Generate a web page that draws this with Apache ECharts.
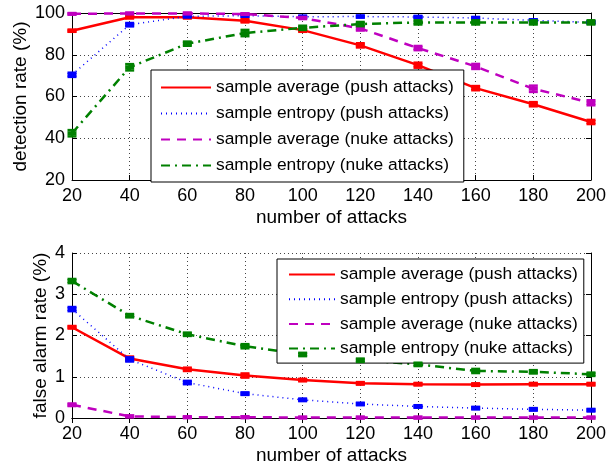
<!DOCTYPE html>
<html>
<head>
<meta charset="utf-8">
<script src="https://cdn.jsdelivr.net/npm/echarts@6/dist/echarts.min.js"></script>
<style>
  html, body { margin: 0; padding: 0; background: #fff; }
  #chart { width: 609px; height: 466px; }
</style>
</head>
<body>
<div id="chart"></div>
<script>
// number of attacks
var attacks = [20, 40, 60, 80, 100, 120, 140, 160, 180, 200];
var seriesNames = [
  "sample average (push attacks)",
  "sample entropy (push attacks)",
  "sample average (nuke attacks)",
  "sample entropy (nuke attacks)"
];

// detection rate (%)
var detAvgPush = [91.5, 98, 98, 96.3, 91.8, 84.5, 75, 64, 56.3, 47.8];
var detEntPush = [70.4, 94.4, 98.4, 98.7, 98.2, 98.3, 98.1, 97.6, 96.5, 95.5];
var detAvgNuke = [99.6, 99.8, 99.8, 99.5, 97.6, 92.6, 83.2, 74.4, 63.7, 57];
var detEntNuke = [42.4, 74, 85.3, 90.4, 92.9, 94.7, 95.5, 95.5, 95.5, 95.5];
var detAvgPushErr = [0.5, 0.6, 0.6, 0.8, 0.8, 1, 1.2, 1, 1, 1];
var detEntPushErr = [1, 0.8, 0.5, 0.5, 0.5, 0.5, 0.5, 0.5, 0.5, 0.5];
var detAvgNukeErr = [0.3, 0.3, 0.3, 0.3, 0.5, 1, 1, 1.2, 1.5, 1.2];
var detEntNukeErr = [1.5, 1.5, 1, 1.5, 1, 1, 1, 1, 1, 1];

// false alarm rate (%)
var faAvgPush = [2.2, 1.44, 1.18, 1.03, 0.92, 0.84, 0.82, 0.81, 0.82, 0.82];
var faEntPush = [2.64, 1.42, 0.86, 0.59, 0.44, 0.34, 0.28, 0.24, 0.21, 0.19];
var faAvgNuke = [0.32, 0.04, 0.02, 0.02, 0.01, 0.01, 0.01, 0.01, 0.01, 0.01];
var faEntNuke = [3.32, 2.48, 2.03, 1.74, 1.54, 1.4, 1.3, 1.14, 1.12, 1.06];
var faAvgPushErr = [0.03, 0.05, 0.04, 0.05, 0.03, 0.03, 0.03, 0.03, 0.03, 0.03];
var faEntPushErr = [0.05, 0.05, 0.04, 0.03, 0.03, 0.03, 0.03, 0.03, 0.03, 0.03];
var faAvgNukeErr = [0.03, 0.02, 0.02, 0.02, 0.02, 0.02, 0.02, 0.02, 0.02, 0.02];
var faEntNukeErr = [0.05, 0.04, 0.04, 0.05, 0.04, 0.04, 0.04, 0.05, 0.04, 0.04];

var colors = ["#ff0000", "#0000ff", "#bf00bf", "#008000"];
var lineTypes = ["solid", [1, 4], [9, 7], [9, 5, 2, 5]];
var lineWidths = [2.5, 1.5, 2.5, 2.5];
var font = "Liberation Sans, Arial, Helvetica, sans-serif";

var myChart = echarts.init(document.getElementById("chart"));

function zip(xs, ys, es) {
  var out = [];
  for (var i = 0; i < xs.length; i++) out.push([xs[i], ys[i], es[i]]);
  return out;
}

// error bar with caps, drawn at each data point
function errorBar(color) {
  return function (params, api) {
    var x = api.value(0), y = api.value(1), e = api.value(2);
    var lo = api.coord([x, y - e]);
    var hi = api.coord([x, y + e]);
    var c = api.coord([x, y]);
    var half = 4.5;
    var style = { stroke: color, lineWidth: 2.5 };
    return {
      type: "group",
      children: [
        { type: "line", shape: { x1: c[0], y1: lo[1], x2: c[0], y2: hi[1] }, style: style },
        { type: "line", shape: { x1: c[0] - half, y1: lo[1], x2: c[0] + half, y2: lo[1] }, style: style },
        { type: "line", shape: { x1: c[0] - half, y1: hi[1], x2: c[0] + half, y2: hi[1] }, style: style },
        { type: "rect", shape: { x: c[0] - half, y: c[1] - 2, width: 2 * half, height: 4 }, style: { fill: color } }
      ]
    };
  };
}

var axisLabelStyle = { color: "#000", fontSize: 18, fontFamily: font, margin: 7 };
var nameStyle = { color: "#000", fontSize: 19, fontFamily: font };

function xAxes(gridIndex) {
  return [
    {
      type: "value", gridIndex: gridIndex, min: 20, max: 200, interval: 20,
      name: "number of attacks", nameLocation: "middle", nameGap: 28, nameTextStyle: nameStyle,
      axisLine: { show: true, lineStyle: { color: "#000", width: 1 } },
      axisTick: { show: true, inside: true, length: 5, lineStyle: { color: "#000" } },
      axisLabel: axisLabelStyle,
      splitLine: { show: true, lineStyle: { color: "#444", type: [1, 3], width: 1 } }
    },
    {
      type: "value", gridIndex: gridIndex, position: "top", min: 20, max: 200, interval: 20,
      axisLine: { show: true, lineStyle: { color: "#000", width: 1 } },
      axisTick: { show: true, inside: true, length: 5, lineStyle: { color: "#000" } },
      axisLabel: { show: false }, splitLine: { show: false }
    }
  ];
}

function yAxes(gridIndex, min, max, interval, name, gap) {
  return [
    {
      type: "value", gridIndex: gridIndex, min: min, max: max, interval: interval,
      name: name, nameLocation: "middle", nameGap: gap, nameTextStyle: nameStyle,
      nameMoveOverlap: false,
      axisLine: { show: true, lineStyle: { color: "#000", width: 1 } },
      axisTick: { show: true, inside: true, length: 5, lineStyle: { color: "#000" } },
      axisLabel: axisLabelStyle,
      splitLine: { show: true, lineStyle: { color: "#444", type: [1, 3], width: 1 } }
    },
    {
      type: "value", gridIndex: gridIndex, position: "right", min: min, max: max, interval: interval,
      axisLine: { show: true, lineStyle: { color: "#000", width: 1 } },
      axisTick: { show: true, inside: true, length: 5, lineStyle: { color: "#000" } },
      axisLabel: { show: false }, splitLine: { show: false }
    }
  ];
}

var detData = [
  [detAvgPush, detAvgPushErr],
  [detEntPush, detEntPushErr],
  [detAvgNuke, detAvgNukeErr],
  [detEntNuke, detEntNukeErr]
];
var faData = [
  [faAvgPush, faAvgPushErr],
  [faEntPush, faEntPushErr],
  [faAvgNuke, faAvgNukeErr],
  [faEntNuke, faEntNukeErr]
];

var series = [];
[detData, faData].forEach(function (set, g) {
  set.forEach(function (d, i) {
    series.push({
      name: seriesNames[i], type: "line", xAxisIndex: g * 2, yAxisIndex: g * 2,
      data: zip(attacks, d[0], d[1]).map(function (p) { return [p[0], p[1]]; }),
      symbol: "none", color: colors[i],
      lineStyle: { color: colors[i], width: lineWidths[i], type: lineTypes[i] },
      z: 3, silent: true
    });
    series.push({
      name: seriesNames[i] + " err", type: "custom", xAxisIndex: g * 2, yAxisIndex: g * 2,
      data: zip(attacks, d[0], d[1]),
      renderItem: errorBar(colors[i]), z: 4, silent: true
    });
  });
});

var legendBase = {
  orient: "vertical", data: seriesNames,
  backgroundColor: "#fff", borderColor: "#000", borderWidth: 1, borderRadius: 0,
  textStyle: { color: "#000", fontSize: 17.4, fontFamily: font },
  itemStyle: { opacity: 0 },
  selectedMode: false
};

var option = {
  animation: false,
  backgroundColor: "#fff",
  grid: [
    { left: 72, right: 17, top: 13, height: 167, show: false },
    { left: 72, right: 17, top: 253, height: 165, show: false }
  ],
  legend: [
    Object.assign({}, legendBase, { left: 151, top: 70, itemWidth: 50, itemHeight: 14, itemGap: 9, padding: [9, 10, 8, 9] }),
    Object.assign({}, legendBase, { left: 277, top: 259, itemWidth: 46, itemHeight: 14, itemGap: 7.7, padding: [7, 6, 6, 11] })
  ],
  xAxis: xAxes(0).concat(xAxes(1)),
  yAxis: yAxes(0, 20, 100, 20, "detection rate (%)", 42).concat(yAxes(1, 0, 4, 1, "false alarm rate (%)", 22)),
  series: series
};

myChart.setOption(option);
</script>
</body>
</html>
